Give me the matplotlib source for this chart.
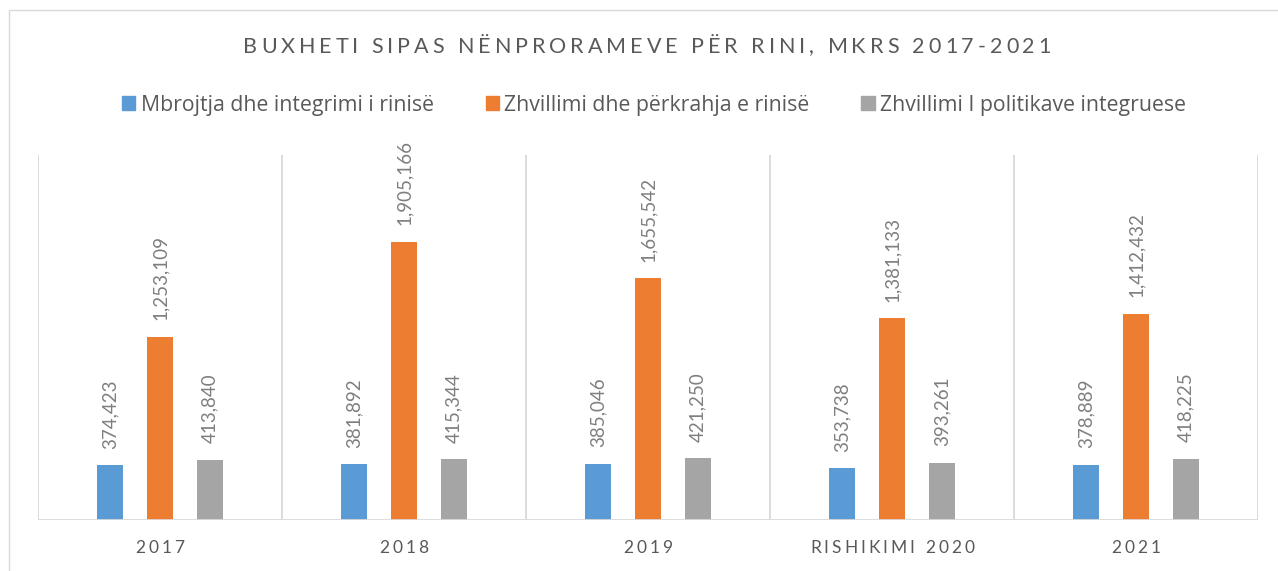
import matplotlib
matplotlib.use("Agg")
import matplotlib.pyplot as plt
import matplotlib.patches as mpatches
from matplotlib.transforms import IdentityTransform
import numpy as np

categories = ["2017", "2018", "2019", "RISHIKIMI 2020", "2021"]
series_names = [
    "Mbrojtja dhe integrimi i rinisë",
    "Zhvillimi dhe përkrahja e rinisë",
    "Zhvillimi I politikave integruese",
]
mbrojtja = [374423, 381892, 385046, 353738, 378889]
zhvillimi = [1253109, 1905166, 1655542, 1381133, 1412432]
politikave = [413840, 415344, 421250, 393261, 418225]
title = "BUXHETI SIPAS NËNPRORAMEVE PËR RINI, MKRS 2017-2021"

colors = ["#5B9BD5", "#ED7D31", "#A5A5A5"]
FONT = "Lato"
TXT = "#595959"

W, H = 1278, 571
fig = plt.figure(figsize=(W / 100, H / 100), dpi=100)
ax = fig.add_axes([38 / W, 1 - 520 / H, 1220 / W, 365 / H])

x = np.arange(len(categories))
bw = 0.107
off = 0.205
for k, (vals, c) in enumerate(zip([mbrojtja, zhvillimi, politikave], colors)):
    bars = ax.bar(x + (k - 1) * off, vals, width=bw, color=c, zorder=3)
    for b, v in zip(bars, vals):
        ax.annotate(f"{v:,}", (b.get_x() + b.get_width() / 2, v),
                    xytext=(0, 12), textcoords="offset points",
                    rotation=90, ha="center", va="bottom",
                    fontsize=13.5, color="#7F7F7F", family=FONT)

ax.set_xlim(-0.5, len(categories) - 0.5)
ax.set_ylim(0, 2500000)
for g in np.arange(-0.5, len(categories), 1.0):
    ax.axvline(g, color="#D9D9D9", lw=1.3, zorder=1)
for s in ax.spines.values():
    s.set_visible(False)
ax.axhline(0, color="#D9D9D9", lw=2, zorder=4)
ax.set_xticks([])
ax.set_yticks([])

# outer chart border
fig.patches.append(mpatches.Rectangle((9 / W, -0.1), 1.2, 1 - 10 / H + 0.1,
                                      transform=fig.transFigure, fill=False,
                                      edgecolor="#D9D9D9", lw=1))

renderer = fig.canvas.get_renderer()


def char_width(ch, size):
    def w(s):
        t = fig.text(0, 0, s, fontsize=size, family=FONT)
        ww = t.get_window_extent(renderer).width
        t.remove()
        return ww
    return w("a" + ch + "a") - w("aa")


def spaced_text(xc, y, s, size, track, color):
    widths = [char_width(ch, size) for ch in s]
    total = sum(widths) + track * (len(s) - 1)
    xp = xc - total / 2
    for ch, w in zip(s, widths):
        fig.text(xp, y, ch, fontsize=size, family=FONT, color=color,
                 ha="left", va="center", transform=IdentityTransform())
        xp += w + track


spaced_text(647, H - 47, title, 15.5, 3.95, TXT)
for i, cat in enumerate(categories):
    xc = ax.transData.transform((i, 0))[0]
    spaced_text(xc, H - 548, cat, 12.5, 3.0, TXT)

handles = [mpatches.Patch(color=c, label=n) for c, n in zip(colors, series_names)]
fig.legend(handles=handles, loc="center", bbox_to_anchor=(654 / W, 1 - 105 / H),
           ncol=3, frameon=False, prop={"family": "Open Sans", "size": 15.3},
           labelcolor=TXT, handlelength=0.62, handleheight=0.62,
           handletextpad=0.25, columnspacing=2.45)

fig.savefig("out.png", dpi=100)
